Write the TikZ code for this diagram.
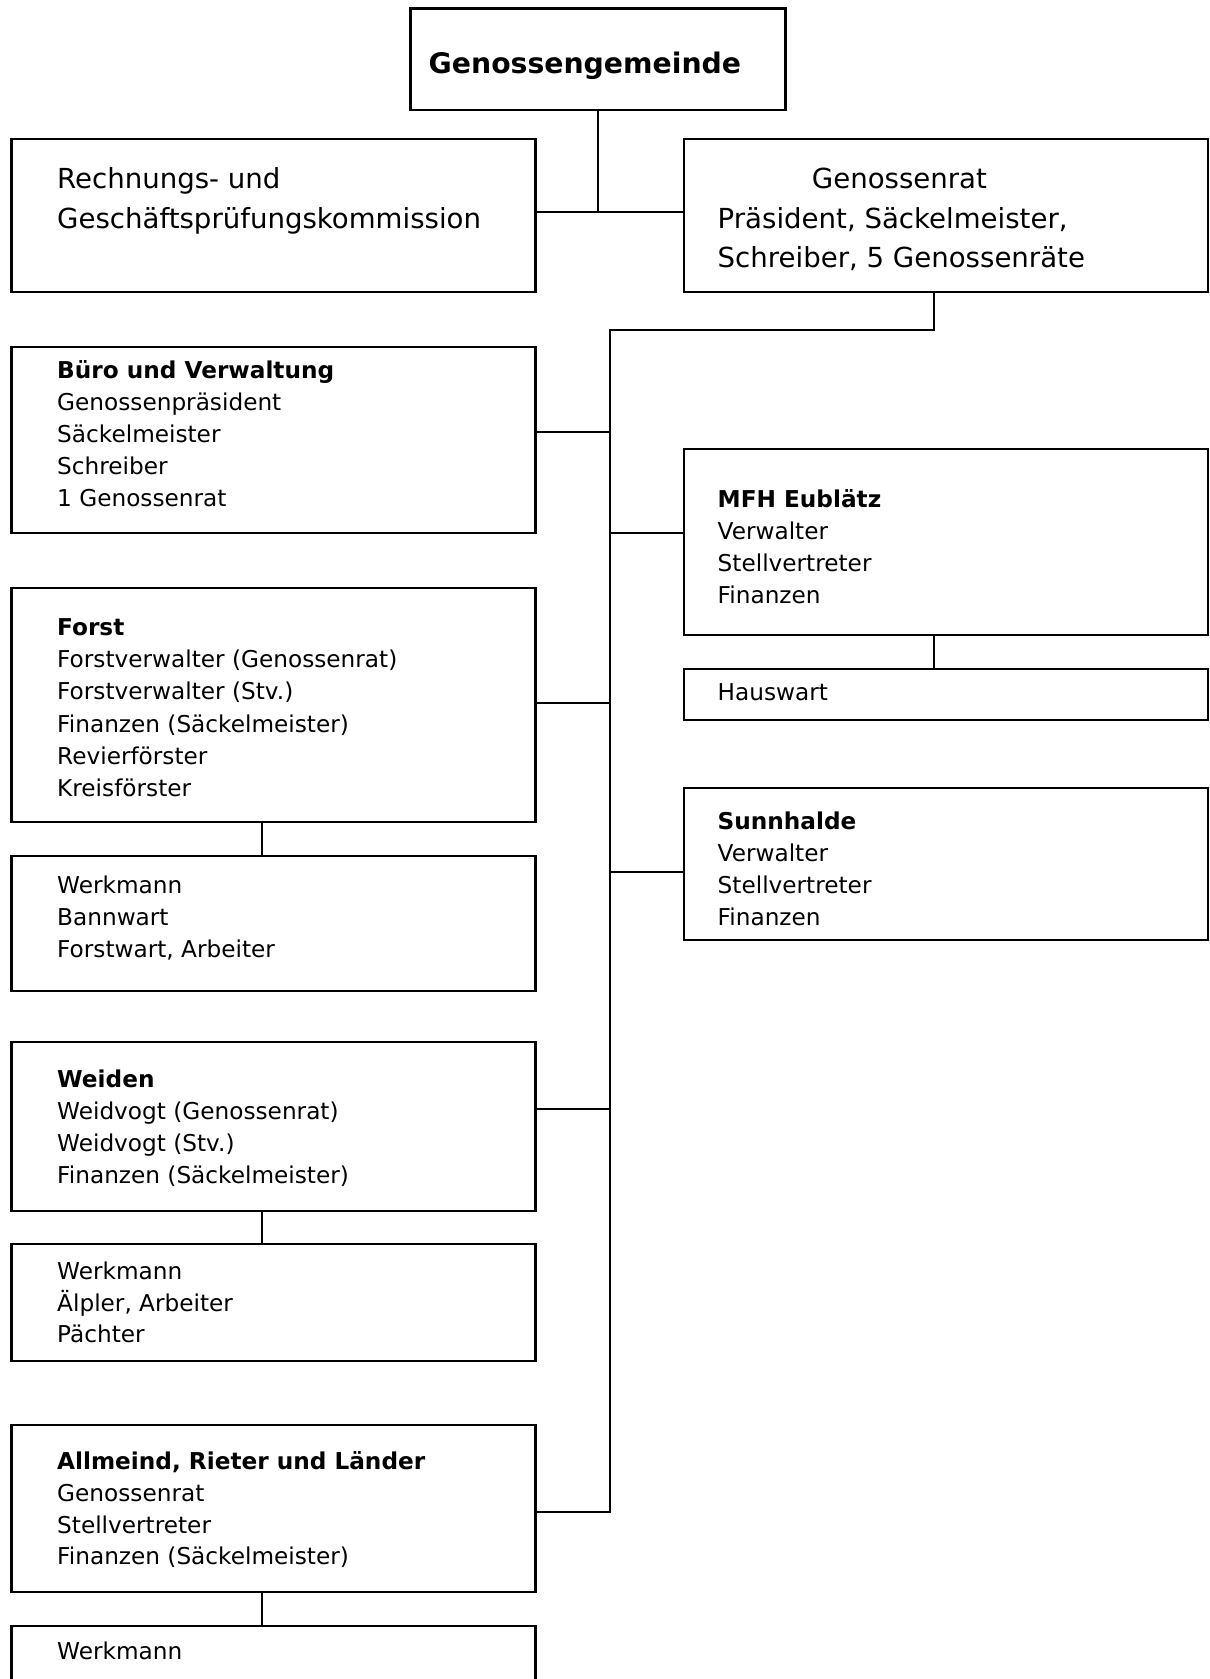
\documentclass[tikz,border=0pt]{standalone}
\usepackage{fontspec}
\setmainfont{DejaVu Sans}
\begin{document}
\begin{tikzpicture}[x=1pt,y=-1pt,
  box/.style={draw,line width=2.3pt,inner sep=0pt,outer sep=0pt,anchor=north west},
  conn/.style={line width=2pt},
  big/.style={anchor=base west,inner sep=0pt,font=\fontsize{27.6}{33}\selectfont},
  bigb/.style={anchor=base west,inner sep=0pt,font=\fontsize{28.3}{34}\selectfont\bfseries},
  txt/.style={anchor=base west,inner sep=0pt,font=\fontsize{23.2}{28}\selectfont},
  hd/.style={anchor=base west,inner sep=0pt,font=\fontsize{23.2}{28}\selectfont\bfseries}]
\clip (0,0) rectangle (1210,1679);
\fill[white] (0,0) rectangle (1210,1679);
% boxes
\node[box,minimum width=375pt,minimum height=101.8pt] (top) at (410.5,8.5) {};
\node[box,minimum width=523.9pt,minimum height=152.7pt] (rech) at (11.6,139.3) {};
\node[box,minimum width=524pt,minimum height=152.7pt] (gr) at (684,139.3) {};
\node[box,minimum width=523.9pt,minimum height=186pt] (buro) at (11.6,347.3) {};
\node[box,minimum width=524pt,minimum height=186pt] (mfh) at (684,449) {};
\node[box,minimum width=524pt,minimum height=51pt] (haus) at (684,669) {};
\node[box,minimum width=523.9pt,minimum height=234pt] (forst) at (11.6,587.7) {};
\node[box,minimum width=523.9pt,minimum height=135.3pt] (wka) at (11.6,855.7) {};
\node[box,minimum width=524pt,minimum height=152.3pt] (sunn) at (684,787.7) {};
\node[box,minimum width=523.9pt,minimum height=169pt] (weid) at (11.6,1041.7) {};
\node[box,minimum width=523.9pt,minimum height=116.7pt] (wkb) at (11.6,1244.3) {};
\node[box,minimum width=523.9pt,minimum height=167.3pt] (allm) at (11.6,1425) {};
\node[box,minimum width=523.9pt,minimum height=80pt] (wkc) at (11.6,1626) {};
% helper coordinates
\coordinate (h1) at (0,211.7);
\coordinate (gx) at (934.4,330);
\coordinate (sp) at (609.6,330);
\coordinate (sb) at (609.6,1511.7);
\coordinate (lx) at (261.6,0);
\coordinate (bB) at (0,432);
\coordinate (bM) at (0,533.3);
\coordinate (bF) at (0,702.7);
\coordinate (bS) at (0,872.3);
\coordinate (bW) at (0,1109.3);
% connectors
\draw[conn] (top.south) -- (top.south |- h1);
\draw[conn] (rech.east |- h1) -- (gr.west |- h1);
\draw[conn] (gr.south -| gx) -- (gx) -- (sp) -- (sb) -- (allm.east |- sb);
\draw[conn] (buro.east |- bB) -- (sp |- bB);
\draw[conn] (mfh.west |- bM) -- (sp |- bM);
\draw[conn] (forst.east |- bF) -- (sp |- bF);
\draw[conn] (sunn.west |- bS) -- (sp |- bS);
\draw[conn] (weid.east |- bW) -- (sp |- bW);
\draw[conn] (mfh.south -| gx) -- (haus.north -| gx);
\draw[conn] (forst.south -| lx) -- (wka.north -| lx);
\draw[conn] (weid.south -| lx) -- (wkb.north -| lx);
\draw[conn] (allm.south -| lx) -- (wkc.north -| lx);
% texts
\node[bigb] (t0) at (428.5,73.3) {Genossengemeinde};
\node[big] (t1) at (57,188) {Rechnungs- und};
\node[big] (t2) at (57,228) {Geschäftsprüfungskommission};
\node[big] (t3) at (811.7,188) {Genossenrat};
\node[big] (t4) at (717.5,228) {Präsident, Säckelmeister,};
\node[big] (t5) at (717.5,267.5) {Schreiber, 5 Genossenräte};
% Buero
\node[hd] (b0) at (57,378.5) {Büro und Verwaltung};
\node[txt] (b1) at (57,410.5) {Genossenpräsident};
\node[txt] (b2) at (57,442.5) {Säckelmeister};
\node[txt] (b3) at (57,474.5) {Schreiber};
\node[txt] (b4) at (57,506.5) {1 Genossenrat};
% MFH
\node[hd] (m0) at (717.5,507.3) {MFH Eublätz};
\node[txt] (m1) at (717.5,539.3) {Verwalter};
\node[txt] (m2) at (717.5,571.3) {Stellvertreter};
\node[txt] (m3) at (717.5,603.3) {Finanzen};
\node[txt] (ha) at (717.5,700) {Hauswart};
% Forst
\node[hd] (f0) at (57,635.7) {Forst};
\node[txt] (f1) at (57,667.8) {Forstverwalter (Genossenrat)};
\node[txt] (f2) at (57,699.9) {Forstverwalter (Stv.)};
\node[txt] (f3) at (57,732) {Finanzen (Säckelmeister)};
\node[txt] (f4) at (57,764.1) {Revierförster};
\node[txt] (f5) at (57,796.2) {Kreisförster};
\node[txt] (w1) at (57,893.3) {Werkmann};
\node[txt] (w2) at (57,925.5) {Bannwart};
\node[txt] (w3) at (57,957.7) {Forstwart, Arbeiter};
% Sunnhalde
\node[hd] (s0) at (717.5,829) {Sunnhalde};
\node[txt] (s1) at (717.5,861.3) {Verwalter};
\node[txt] (s2) at (717.5,893.5) {Stellvertreter};
\node[txt] (s3) at (717.5,925.7) {Finanzen};
% Weiden
\node[hd] (e0) at (57,1087.3) {Weiden};
\node[txt] (e1) at (57,1119.5) {Weidvogt (Genossenrat)};
\node[txt] (e2) at (57,1151.7) {Weidvogt (Stv.)};
\node[txt] (e3) at (57,1183.5) {Finanzen (Säckelmeister)};
\node[txt] (v1) at (57,1279) {Werkmann};
\node[txt] (v2) at (57,1311) {Älpler, Arbeiter};
\node[txt] (v3) at (57,1342) {Pächter};
% Allmeind
\node[hd] (a0) at (57,1469) {Allmeind, Rieter und Länder};
\node[txt] (a1) at (57,1501) {Genossenrat};
\node[txt] (a2) at (57,1533) {Stellvertreter};
\node[txt] (a3) at (57,1564.5) {Finanzen (Säckelmeister)};
\node[txt] (c1) at (57,1659) {Werkmann};
\end{tikzpicture}
\end{document}
